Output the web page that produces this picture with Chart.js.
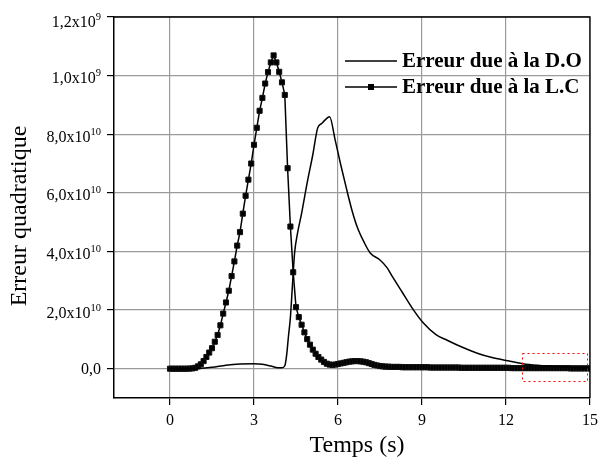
<!DOCTYPE html>
<html><head><meta charset="utf-8">
<script src="https://cdn.jsdelivr.net/npm/chart.js@4/dist/chart.umd.min.js"></script>
<style>html,body{margin:0;padding:0;background:#fff}#wrap{width:598px;height:464px;position:relative}</style>
</head><body><div id="wrap"><canvas id="c" width="598" height="464"></canvas></div>
<script>
// ---- data (values in units of 1e8) ----
const seriesLabels = ['Erreur due à la D.O', 'Erreur due à la L.C'];
const timeLC = [0.0,0.1,0.2,0.3,0.4,0.5,0.6,0.7,0.8,0.9,
1.0,1.1,1.2,1.3,1.4,1.5,1.6,1.7,1.8,1.9,
2.0,2.1,2.2,2.3,2.4,2.5,2.6,2.7,2.8,2.9,
3.0,3.1,3.2,3.3,3.4,3.5,3.6,3.7,3.8,3.9,
4.0,4.1,4.2,4.3,4.4,4.5,4.6,4.7,4.8,4.9,
5.0,5.1,5.2,5.3,5.4,5.5,5.6,5.7,5.8,5.9,
6.0,6.1,6.2,6.3,6.4,6.5,6.6,6.7,6.8,6.9,
7.0,7.1,7.2,7.3,7.4,7.5,7.6,7.7,7.8,7.9,
8.0,8.1,8.2,8.3,8.4,8.5,8.6,8.7,8.8,8.9,
9.0,9.1,9.2,9.3,9.4,9.5,9.6,9.7,9.8,9.9,
10.0,10.1,10.2,10.3,10.4,10.5,10.6,10.7,10.8,10.9,
11.0,11.1,11.2,11.3,11.4,11.5,11.6,11.7,11.8,11.9,
12.0,12.1,12.2,12.3,12.4,12.5,12.6,12.7,12.8,12.9,
13.0,13.1,13.2,13.3,13.4,13.5,13.6,13.7,13.8,13.9,
14.0,14.1,14.2,14.3,14.4,14.5,14.6,14.7,14.8,14.9,
15.0];
const valuesLC = [0,0,0,0,0,0,0,0.005,0.01,0.03,
0.08,0.15,0.26,0.4,0.55,0.7,0.92,1.15,1.48,1.88,
2.26,2.66,3.16,3.66,4.2,4.66,5.29,5.9,6.45,7.0,
7.64,8.22,8.8,9.24,9.73,10.12,10.45,10.69,10.45,10.13,
9.77,9.34,6.84,4.85,3.29,2.1,1.76,1.5,1.24,1.01,
0.82,0.65,0.51,0.4,0.31,0.23,0.17,0.14,0.13,0.14,
0.16,0.18,0.2,0.22,0.24,0.25,0.26,0.26,0.25,0.24,
0.22,0.19,0.16,0.13,0.11,0.09,0.08,0.07,0.07,0.06,
0.06,0.06,0.06,0.05,0.05,0.05,0.05,0.05,0.05,0.05,
0.05,0.05,0.05,0.04,0.04,0.04,0.04,0.04,0.04,0.04,
0.04,0.04,0.04,0.04,0.03,0.03,0.03,0.03,0.03,0.03,
0.03,0.03,0.03,0.03,0.03,0.03,0.03,0.03,0.03,0.03,
0.03,0.03,0.02,0.02,0.02,0.02,0.02,0.02,0.02,0.02,
0.02,0.02,0.02,0.02,0.02,0.02,0.02,0.02,0.02,0.02,
0.02,0.02,0.02,0.01,0.01,0.01,0.01,0.01,0.01,0.01,
0.01];
const timeDO = [0,0.5,1.0,1.5,2.0,2.5,3.0,3.3,3.6,3.85,4.0,4.1,4.17,4.23,4.3,4.37,4.45,4.55,4.7,4.9,5.1,5.27,5.42,5.6,5.7,5.9,6.1,6.3,6.5,6.7,6.95,7.15,7.5,7.75,7.95,8.3,8.7,9.05,9.5,9.9,10.4,11.0,11.5,12.0,12.6,13.2,13.8,14.4,15.0];
const valuesDO = [0,0,0.01,0.05,0.12,0.16,0.17,0.15,0.09,0.03,0.03,0.1,0.5,1.1,1.75,2.8,3.95,4.6,5.3,6.35,7.3,8.2,8.37,8.54,8.6,7.8,6.95,6.15,5.4,4.8,4.28,3.95,3.71,3.45,3.13,2.6,2.0,1.56,1.16,0.97,0.75,0.52,0.38,0.28,0.17,0.11,0.07,0.04,0.02];
const xTickValues = [0,3,6,9,12,15];
const xTickLabels = ['0','3','6','9','12','15'];
const yTickValues = [0,2,4,6,8,10,12];
const yTickMain = ['0,0','2,0x10','4,0x10','6,0x10','8,0x10','1,0x10','1,2x10'];
const yTickSup = ['','10','10','10','10','9','9'];
const xTitle = 'Temps (s)';
const yTitle = 'Erreur quadratique';
const zoomBox = {x0:12.58, x1:14.9, y0:-0.44, y1:0.52};

const SERIF = "'Liberation Serif','Times New Roman',serif";

const drawPlugin = {
  id:'custom',
  afterDraw(chart){
    const ctx = chart.ctx, xs = chart.scales.x, ys = chart.scales.y, a = chart.chartArea;
    ctx.save();
    // frame top & right
    ctx.strokeStyle = '#000'; ctx.lineWidth = 1.3;
    ctx.beginPath(); ctx.moveTo(a.left, a.top); ctx.lineTo(a.right, a.top); ctx.lineTo(a.right, a.bottom); ctx.stroke();
    // red dotted box
    ctx.strokeStyle = '#ff0000'; ctx.lineWidth = 1; ctx.setLineDash([2,3]);
    const rx0 = xs.getPixelForValue(zoomBox.x0), rx1 = xs.getPixelForValue(zoomBox.x1);
    const ry0 = ys.getPixelForValue(zoomBox.y1), ry1 = ys.getPixelForValue(zoomBox.y0);
    ctx.strokeRect(Math.round(rx0)+0.5, Math.round(ry0)+0.5, Math.round(rx1-rx0), Math.round(ry1-ry0));
    ctx.setLineDash([]);
    // x tick labels
    ctx.fillStyle = '#000';
    ctx.font = '16px ' + SERIF; ctx.textAlign = 'center'; ctx.textBaseline = 'alphabetic';
    xTickValues.forEach((v,i)=>{ ctx.fillText(xTickLabels[i], xs.getPixelForValue(v), 424.5); });
    // y tick labels with superscripts
    yTickValues.forEach((v,i)=>{
      const y = ys.getPixelForValue(v);
      const right = 101;
      if (!yTickSup[i]) {
        ctx.font = '16px ' + SERIF; ctx.textAlign = 'right';
        ctx.fillText(yTickMain[i], right, y + 5.5);
      } else {
        ctx.font = '10.5px ' + SERIF; ctx.textAlign = 'right';
        const sw = ctx.measureText(yTickSup[i]).width;
        const base = y + (v === 12 ? 9.5 : 7.5);
        ctx.fillText(yTickSup[i], right, base - 7);
        ctx.font = '16px ' + SERIF;
        ctx.fillText(yTickMain[i], right - sw, base);
      }
    });
    // axis titles
    ctx.font = '24px ' + SERIF; ctx.textAlign = 'center';
    ctx.fillText(xTitle, 357, 451.5);
    ctx.save(); ctx.translate(26, 216); ctx.rotate(-Math.PI/2);
    ctx.fillText(yTitle, 0, 0); ctx.restore();
    // legend
    const rows = [{y:61, base:66.5}, {y:87, base:92.5}];
    chart.data.datasets.forEach((ds,i)=>{
      const r = rows[i];
      ctx.strokeStyle = '#000'; ctx.lineWidth = 1.5;
      ctx.beginPath(); ctx.moveTo(345, r.y); ctx.lineTo(397, r.y); ctx.stroke();
      if (ds.pointRadius > 0) { ctx.fillStyle = '#000'; ctx.fillRect(368, r.y-3, 6, 6); }
      ctx.fillStyle = '#000';
      ctx.font = 'bold 21px ' + SERIF; ctx.textAlign = 'left';
      ctx.fillText(ds.label, 402, r.base);
    });
    ctx.restore();
  }
};

new Chart(document.getElementById('c'), {
  type:'line',
  data:{
    datasets:[
      {label:seriesLabels[0], data: timeDO.map((t,i)=>({x:t, y:valuesDO[i]})),
       borderColor:'#000', borderWidth:1.5, pointRadius:0, cubicInterpolationMode:'monotone', fill:false},
      {label:seriesLabels[1], data: timeLC.map((t,i)=>({x:t, y:valuesLC[i]})),
       borderColor:'#000', borderWidth:1.5, pointRadius:3.6, pointStyle:'rect',
       pointBackgroundColor:'#000', pointBorderColor:'#111', pointBorderWidth:1, tension:0, fill:false}
    ]
  },
  options:{
    responsive:false, animation:false, devicePixelRatio:1,
    layout:{padding:{top:17, right:8, left:0, bottom:0}},
    plugins:{legend:{display:false}, tooltip:{enabled:false}},
    scales:{
      x:{type:'linear', min:-2, max:15,
        afterBuildTicks:(s)=>{ s.ticks = xTickValues.map(v=>({value:v})); },
        afterFit:(s)=>{ s.height = 66; },
        ticks:{display:false},
        grid:{color:'#9a9a9a', lineWidth:1.2, tickColor:'#000', tickLength:7, drawTicks:true},
        border:{color:'#000', width:1.5}
      },
      y:{type:'linear', min:-1, max:12,
        afterBuildTicks:(s)=>{ s.ticks = yTickValues.map(v=>({value:v})); },
        afterFit:(s)=>{ s.width = 114; },
        ticks:{display:false},
        grid:{color:'#9a9a9a', lineWidth:1.2, tickColor:'#000', tickLength:7, drawTicks:true},
        border:{color:'#000', width:1.5}
      }
    }
  },
  plugins:[drawPlugin]
});
</script></body></html>
